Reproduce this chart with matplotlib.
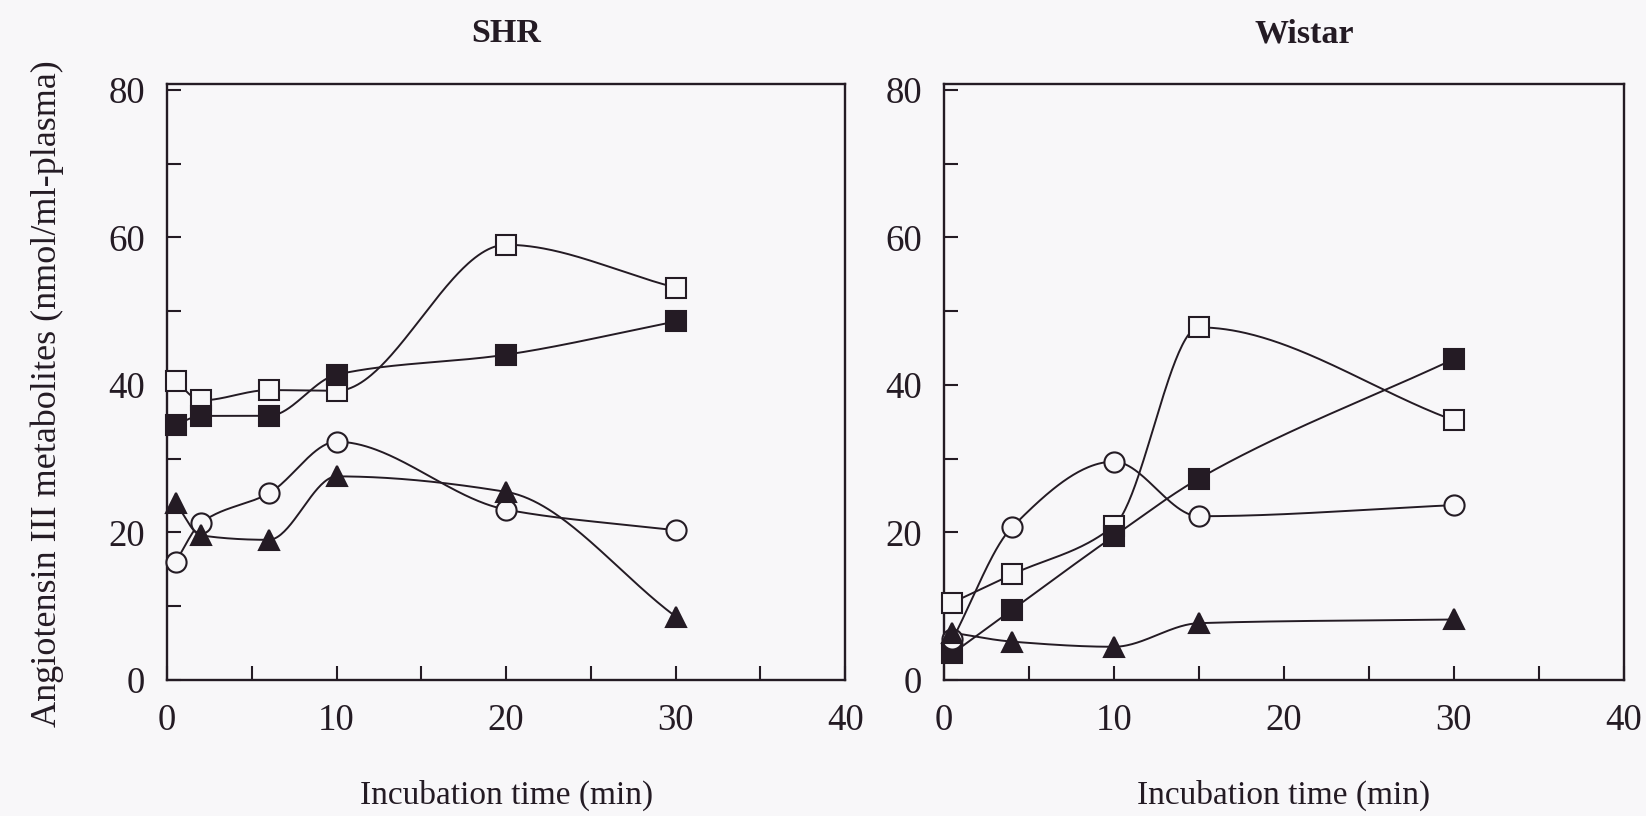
import numpy as np
import matplotlib

matplotlib.use('Agg')
import matplotlib.pyplot as plt

# SHR panel
shr_time = [0.5, 2, 6, 10, 20, 30]
shr_open_sq = [40.5, 37.9, 39.3, 39.2, 59.0, 53.2]
shr_fill_sq = [34.6, 35.8, 35.8, 41.4, 44.1, 48.6]
shr_circle = [16.0, 21.3, 25.3, 32.3, 23.1, 20.3]
shr_triangle = [24.0, 19.6, 19.0, 27.6, 25.5, 8.6]

# Wistar panel
wis_time = [0.5, 4, 10, 15, 30]
wis_open_sq = [10.5, 14.3, 20.9, 47.8, 35.2]
wis_fill_sq = [3.6, 9.5, 19.5, 27.3, 43.5]
wis_circle = [5.5, 20.7, 29.6, 22.2, 23.7]
wis_triangle = [6.4, 5.2, 4.5, 7.7, 8.2]

x_ticks = [0, 10, 20, 30, 40]
y_ticks = [0, 20, 40, 60, 80]

BG = '#f8f7f9'
INK = '#241b24'


def smooth_line(x, y, n=300):
    # monotone cubic (Fritsch-Carlson) used only to draw the connecting line
    x = np.asarray(x, float)
    y = np.asarray(y, float)
    h = np.diff(x)
    d = np.diff(y) / h
    m = np.zeros_like(y)
    for k in range(1, len(x) - 1):
        if d[k - 1] * d[k] > 0:
            w1 = 2 * h[k] + h[k - 1]
            w2 = h[k] + 2 * h[k - 1]
            m[k] = (w1 + w2) / (w1 / d[k - 1] + w2 / d[k])
    # ends: follow the last segment
    m[0] = d[0]
    m[-1] = d[-1]
    xs = np.linspace(x[0], x[-1], n)
    idx = np.clip(np.searchsorted(x, xs) - 1, 0, len(x) - 2)
    t = (xs - x[idx]) / h[idx]
    h00 = 2 * t**3 - 3 * t**2 + 1
    h10 = t**3 - 2 * t**2 + t
    h01 = -2 * t**3 + 3 * t**2
    h11 = t**3 - t**2
    ys = h00 * y[idx] + h10 * h[idx] * m[idx] + h01 * y[idx + 1] + h11 * h[idx] * m[idx + 1]
    return xs, ys


plt.rcParams['font.family'] = ['Liberation Serif', 'DejaVu Serif']

fig = plt.figure(figsize=(16.46, 8.16), dpi=100, facecolor=BG)
ax1 = fig.add_axes([0.1015, 0.1667, 0.412, 0.7304])
ax2 = fig.add_axes([0.5735, 0.1667, 0.413, 0.7304])

series_style = [
    ('s', BG),
    ('s', INK),
    ('o', BG),
    ('^', INK),
]

panels = [
    (ax1, 'SHR', 0.5, shr_time, [shr_open_sq, shr_fill_sq, shr_circle, shr_triangle]),
    (ax2, 'Wistar', 0.53, wis_time, [wis_open_sq, wis_fill_sq, wis_circle, wis_triangle]),
]

for ax, title, tx, t, series in panels:
    ax.set_facecolor(BG)
    for vals, (mk, fc) in zip(series, series_style):
        xs, ys = smooth_line(t, vals)
        ax.plot(xs, ys, color=INK, lw=1.4, zorder=2)
    for vals, (mk, fc) in zip(series, series_style):
        ax.plot(t, vals, linestyle='none', marker=mk, markersize=14.5,
                markerfacecolor=fc, markeredgecolor=INK, markeredgewidth=1.5, zorder=3, clip_on=False)

    ax.set_xlim(0, 40)
    ax.set_ylim(0, 80.8)
    ax.set_xticks(x_ticks)
    ax.set_xticks(np.arange(0, 41, 5), minor=True)
    ax.set_yticks(y_ticks)
    ax.set_yticks(np.arange(0, 81, 10), minor=True)
    ax.tick_params(which='both', direction='in', colors=INK, width=1.5)
    ax.tick_params(which='major', length=10, labelsize=26.5)
    ax.tick_params(axis='x', which='major', pad=17)
    ax.tick_params(axis='y', which='major', pad=16)
    ax.tick_params(which='minor', length=10)
    for sp in ax.spines.values():
        sp.set_linewidth(1.7)
        sp.set_color(INK)
    ax.set_xlabel('Incubation time (min)', fontsize=24, color=INK, labelpad=30)
    ax.set_title(title, fontsize=24.5, fontweight='bold', color=INK, pad=30, x=tx)

ax1.set_ylabel('Angiotensin III metabolites (nmol/ml-plasma)', fontsize=26, color=INK)
ax1.yaxis.set_label_coords(-0.152, 0.48)

fig.savefig('out.png', dpi=100, facecolor=BG)
